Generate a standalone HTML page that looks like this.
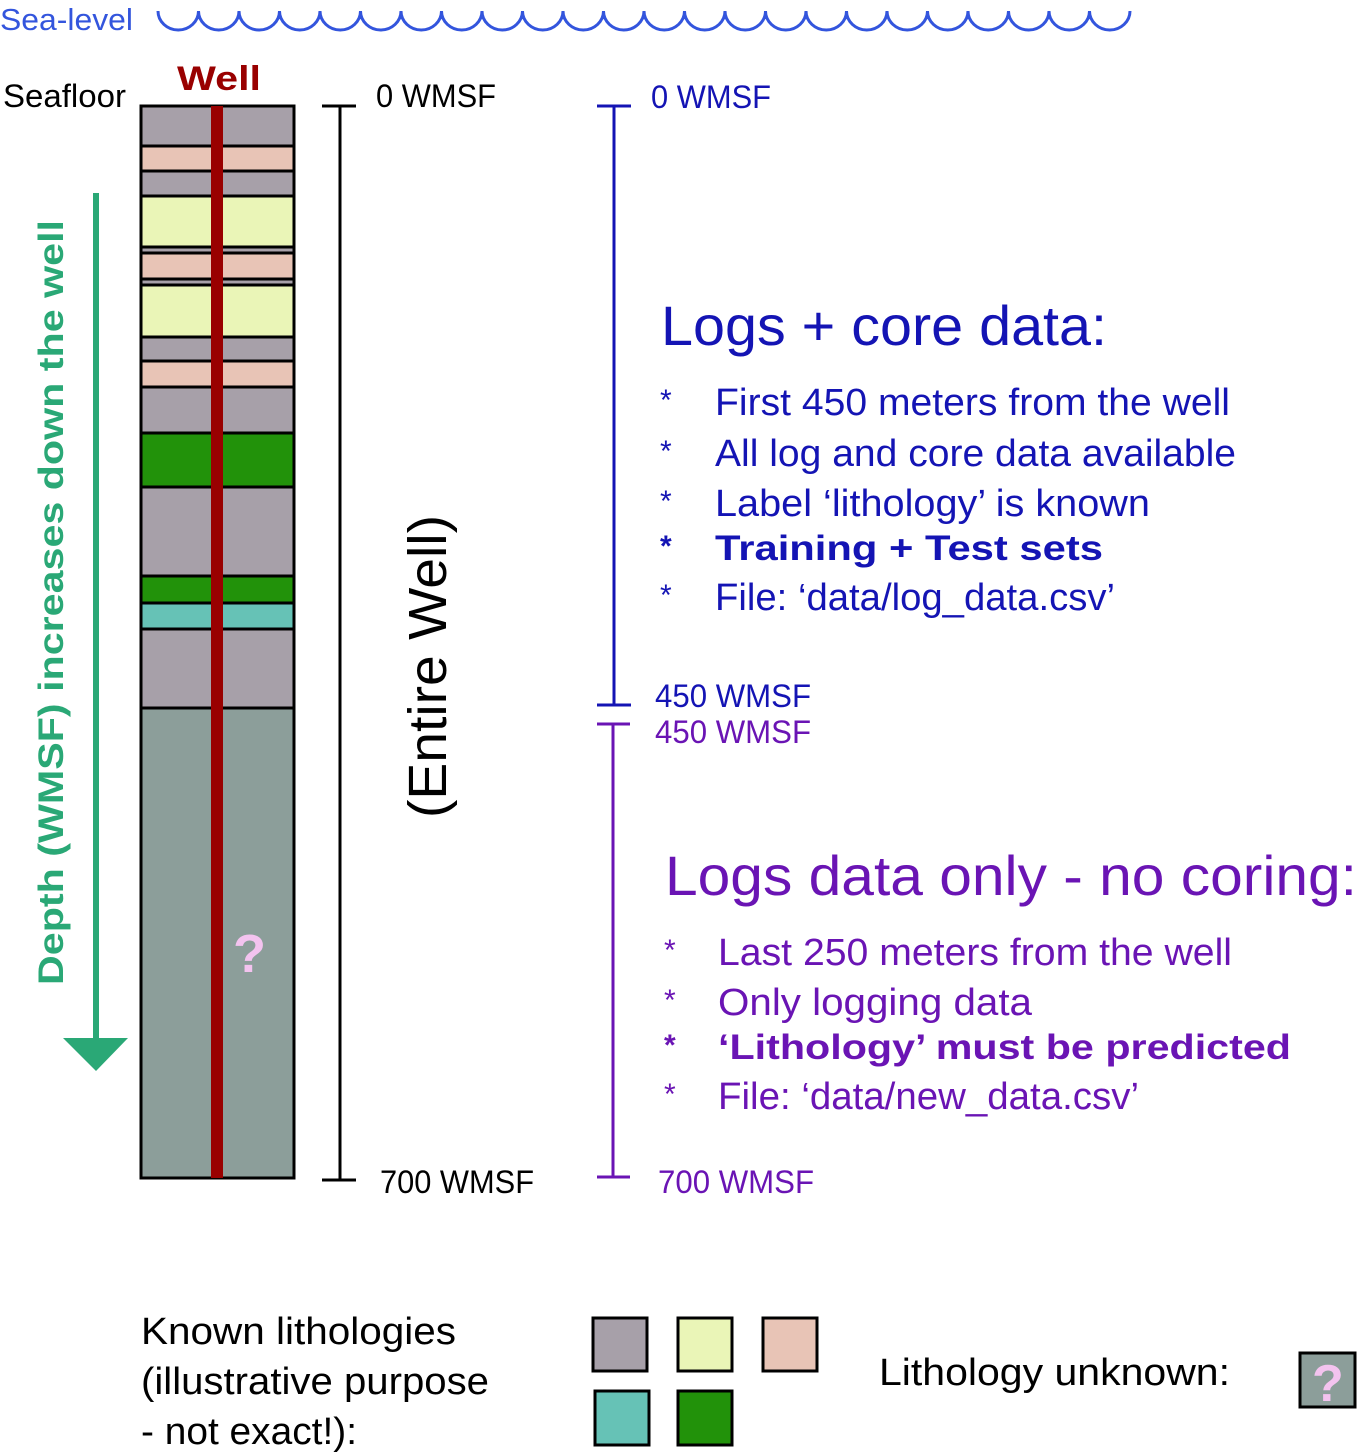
<!DOCTYPE html>
<html><head><meta charset="utf-8"><style>
html,body{margin:0;padding:0;background:#fff;}
svg{display:block;}
text{font-family:"Liberation Sans",sans-serif;}
</style></head><body>
<svg width="1357" height="1456" viewBox="0 0 1357 1456" xmlns="http://www.w3.org/2000/svg">
<text x="0" y="30" font-size="31" fill="#3355dd" textLength="133" lengthAdjust="spacingAndGlyphs">Sea-level</text>
<path d="M158,11 a20.25,19 0 0 0 40.5,0 a20.25,19 0 0 0 40.5,0 a20.25,19 0 0 0 40.5,0 a20.25,19 0 0 0 40.5,0 a20.25,19 0 0 0 40.5,0 a20.25,19 0 0 0 40.5,0 a20.25,19 0 0 0 40.5,0 a20.25,19 0 0 0 40.5,0 a20.25,19 0 0 0 40.5,0 a20.25,19 0 0 0 40.5,0 a20.25,19 0 0 0 40.5,0 a20.25,19 0 0 0 40.5,0 a20.25,19 0 0 0 40.5,0 a20.25,19 0 0 0 40.5,0 a20.25,19 0 0 0 40.5,0 a20.25,19 0 0 0 40.5,0 a20.25,19 0 0 0 40.5,0 a20.25,19 0 0 0 40.5,0 a20.25,19 0 0 0 40.5,0 a20.25,19 0 0 0 40.5,0 a20.25,19 0 0 0 40.5,0 a20.25,19 0 0 0 40.5,0 a20.25,19 0 0 0 40.5,0 a20.25,19 0 0 0 40.5,0" fill="none" stroke="#3355dd" stroke-width="3"/>
<text x="3" y="107" font-size="32" fill="#000" textLength="123" lengthAdjust="spacingAndGlyphs">Seafloor</text>
<text x="177" y="90" font-size="34" font-weight="bold" fill="#990000" textLength="84" lengthAdjust="spacingAndGlyphs">Well</text>
<g stroke="#000" stroke-width="3">
<rect x="141" y="106" width="153" height="40" fill="#a7a0a9"/>
<rect x="141" y="146" width="153" height="25" fill="#e8c4b6"/>
<rect x="141" y="171" width="153" height="25" fill="#a7a0a9"/>
<rect x="141" y="196" width="153" height="51" fill="#eaf5b7"/>
<rect x="141" y="247" width="153" height="6" fill="#a7a0a9"/>
<rect x="141" y="253" width="153" height="26" fill="#e8c4b6"/>
<rect x="141" y="279" width="153" height="6" fill="#a7a0a9"/>
<rect x="141" y="285" width="153" height="52" fill="#eaf5b7"/>
<rect x="141" y="337" width="153" height="24" fill="#a7a0a9"/>
<rect x="141" y="361" width="153" height="26" fill="#e8c4b6"/>
<rect x="141" y="387" width="153" height="46" fill="#a7a0a9"/>
<rect x="141" y="433" width="153" height="54" fill="#22920a"/>
<rect x="141" y="487" width="153" height="89" fill="#a7a0a9"/>
<rect x="141" y="576" width="153" height="27" fill="#22920a"/>
<rect x="141" y="603" width="153" height="26" fill="#66c2b6"/>
<rect x="141" y="629" width="153" height="79" fill="#a7a0a9"/>
<rect x="141" y="708" width="153" height="470" fill="#8c9e9a"/>
</g>
<rect x="211" y="106" width="12" height="1072" fill="#990000"/>
<text x="233" y="972" font-size="54" font-weight="bold" fill="#f3c3ef">?</text>
<line x1="96" y1="193" x2="96" y2="1045" stroke="#2aa876" stroke-width="6"/>
<polygon points="63,1038 128,1038 96,1071" fill="#2aa876"/>
<text transform="translate(63,985) rotate(-90)" font-size="35" font-weight="bold" fill="#2aa876" textLength="765" lengthAdjust="spacingAndGlyphs">Depth (WMSF) increases down the well</text>
<g stroke="#000" stroke-width="3"><line x1="340" y1="106" x2="340" y2="1180"/><line x1="322" y1="106" x2="356" y2="106"/><line x1="322" y1="1180" x2="356" y2="1180"/></g>
<text x="376" y="107" font-size="32" fill="#000" textLength="120" lengthAdjust="spacingAndGlyphs">0 WMSF</text>
<text x="380" y="1193" font-size="32" fill="#000" textLength="154" lengthAdjust="spacingAndGlyphs">700 WMSF</text>
<text transform="translate(446,818) rotate(-90)" font-size="54" fill="#000" textLength="303" lengthAdjust="spacingAndGlyphs">(Entire Well)</text>
<g stroke="#1414b4" stroke-width="3"><line x1="614" y1="106" x2="614" y2="705"/><line x1="597" y1="106" x2="631" y2="106"/><line x1="597" y1="705" x2="631" y2="705"/></g>
<g stroke="#6a14b4" stroke-width="3"><line x1="613" y1="724" x2="613" y2="1177"/><line x1="597" y1="724" x2="630" y2="724"/><line x1="597" y1="1177" x2="630" y2="1177"/></g>
<g fill="#1414b4">
<text x="651" y="108" font-size="32" textLength="120" lengthAdjust="spacingAndGlyphs">0 WMSF</text>
<text x="655" y="707" font-size="32" textLength="156" lengthAdjust="spacingAndGlyphs">450 WMSF</text>
<text x="661" y="345" font-size="56" textLength="446" lengthAdjust="spacingAndGlyphs">Logs + core data:</text>
<text x="660" y="410" font-size="30">*</text>
<text x="660" y="461" font-size="30">*</text>
<text x="660" y="511" font-size="30">*</text>
<text x="660" y="556" font-size="30" font-weight="bold">*</text>
<text x="660" y="605" font-size="30">*</text>
<text x="715" y="415" font-size="38" textLength="515" lengthAdjust="spacingAndGlyphs">First 450 meters from the well</text>
<text x="715" y="466" font-size="38" textLength="521" lengthAdjust="spacingAndGlyphs">All log and core data available</text>
<text x="715" y="516" font-size="38" textLength="435" lengthAdjust="spacingAndGlyphs">Label ‘lithology’ is known</text>
<text x="715" y="560" font-size="35" font-weight="bold" textLength="388" lengthAdjust="spacingAndGlyphs">Training + Test sets</text>
<text x="715" y="610" font-size="38" textLength="400" lengthAdjust="spacingAndGlyphs">File: ‘data/log_data.csv’</text>
</g>
<g fill="#6a14b4">
<text x="655" y="743" font-size="32" textLength="156" lengthAdjust="spacingAndGlyphs">450 WMSF</text>
<text x="658" y="1193" font-size="32" textLength="156" lengthAdjust="spacingAndGlyphs">700 WMSF</text>
<text x="665" y="895" font-size="56" textLength="692" lengthAdjust="spacingAndGlyphs">Logs data only - no coring:</text>
<text x="664" y="960" font-size="30">*</text>
<text x="664" y="1010" font-size="30">*</text>
<text x="664" y="1055" font-size="30" font-weight="bold">*</text>
<text x="664" y="1104" font-size="30">*</text>
<text x="718" y="965" font-size="38" textLength="514" lengthAdjust="spacingAndGlyphs">Last 250 meters from the well</text>
<text x="718" y="1015" font-size="38" textLength="314" lengthAdjust="spacingAndGlyphs">Only logging data</text>
<text x="718" y="1059" font-size="35" font-weight="bold" textLength="573" lengthAdjust="spacingAndGlyphs">‘Lithology’ must be predicted</text>
<text x="718" y="1109" font-size="38" textLength="421" lengthAdjust="spacingAndGlyphs">File: ‘data/new_data.csv’</text>
</g>
<g fill="#000" font-size="38">
<text x="141" y="1344" textLength="315" lengthAdjust="spacingAndGlyphs">Known lithologies</text>
<text x="141" y="1394" textLength="348" lengthAdjust="spacingAndGlyphs">(illustrative purpose</text>
<text x="141" y="1444" textLength="216" lengthAdjust="spacingAndGlyphs">- not exact!):</text>
<text x="879" y="1385" textLength="351" lengthAdjust="spacingAndGlyphs">Lithology unknown:</text>
</g>
<g stroke="#000" stroke-width="3">
<rect x="593" y="1318" width="54" height="53" fill="#a7a0a9"/>
<rect x="678" y="1318" width="54" height="53" fill="#eaf5b7"/>
<rect x="763" y="1318" width="54" height="53" fill="#e8c4b6"/>
<rect x="595" y="1391" width="54" height="54" fill="#66c2b6"/>
<rect x="678" y="1391" width="54" height="54" fill="#22920a"/>
<rect x="1300" y="1353" width="55" height="54" fill="#8c9e9a"/>
</g>
<text x="1312" y="1401" font-size="52" font-weight="bold" fill="#f3c3ef">?</text>
</svg>
</body></html>
